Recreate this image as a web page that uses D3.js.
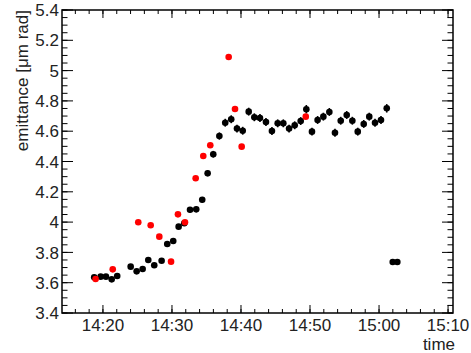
<!DOCTYPE html>
<html><head><meta charset="utf-8">
<script src="https://cdn.jsdelivr.net/npm/d3@7"></script>
<style>body{margin:0;background:#fff}svg{display:block}text{font-family:"Liberation Sans",Arial,sans-serif}</style>
</head><body><svg id="c" width="471" height="353"></svg>
<script>
// black series: time, emittance, error
const blackTimes = ["14:18:44","14:19:40","14:20:26","14:21:16","14:22:04","14:24:01","14:24:53","14:25:45","14:26:34","14:27:26","14:28:30","14:29:19","14:30:11","14:30:58","14:31:47","14:32:37","14:33:31","14:34:23","14:35:10","14:35:59","14:36:52","14:37:43","14:38:35","14:39:25","14:40:15","14:41:07","14:41:56","14:42:45","14:43:37","14:44:29","14:45:19","14:46:08","14:46:58","14:47:47","14:48:39","14:49:28","14:50:17","14:51:06","14:51:56","14:52:48","14:53:37","14:54:27","14:55:19","14:56:08","14:56:55","14:57:47","14:58:35","14:59:25","15:00:17","15:01:07","15:01:59","15:02:39"];
const blackValues = [3.636,3.640,3.640,3.622,3.644,3.706,3.675,3.690,3.750,3.715,3.745,3.855,3.875,3.970,3.992,4.082,4.084,4.148,4.322,4.448,4.568,4.656,4.679,4.617,4.603,4.729,4.692,4.687,4.661,4.601,4.652,4.652,4.617,4.639,4.667,4.745,4.597,4.674,4.696,4.727,4.590,4.669,4.707,4.669,4.597,4.648,4.696,4.656,4.674,4.751,3.737,3.737];
const blackErrors = [0.012,0.012,0.012,0.012,0.012,0.012,0.012,0.012,0.012,0.012,0.012,0.014,0.014,0.016,0.016,0.018,0.018,0.018,0.02,0.022,0.024,0.026,0.026,0.026,0.026,0.026,0.026,0.026,0.026,0.026,0.026,0.026,0.026,0.026,0.026,0.028,0.026,0.026,0.026,0.026,0.026,0.026,0.026,0.026,0.026,0.026,0.026,0.026,0.026,0.028,0.014,0.014];
// red series
const redTimes = ["14:18:56","14:21:25","14:25:07","14:26:55","14:28:10","14:29:52","14:30:52","14:31:53","14:33:26","14:34:32","14:35:33","14:38:13","14:39:08","14:40:06","14:49:23"];
const redValues = [3.624,3.688,3.999,3.979,3.904,3.739,4.051,3.999,4.289,4.436,4.507,5.090,4.747,4.498,4.696];
// axes
const xTickLabels = ["14:20","14:30","14:40","14:50","15:00","15:10"];
const yTickLabels = ["3.4","3.6","3.8","4","4.2","4.4","4.6","4.8","5","5.2","5.4"];
const xRange = ["14:14:04","15:10:43"];
const yRange = [3.4, 5.4];

const parse = d3.timeParse("%Y-%m-%d %H:%M:%S");
const T = s => parse("2000-01-01 " + s);
const TM = s => parse("2000-01-01 " + s + ":00");

const L = 62, R = 453, TOP = 10, B = 313;
const svg = d3.select("#c");
const x = d3.scaleTime().domain(xRange.map(T)).range([L, R]);
const y = d3.scaleLinear().domain(yRange).range([B, TOP]);

const g = svg.append("g");
// minor/major ticks
const xMajor = xTickLabels.map(TM);
const xMinor = d3.timeMinute.every(2).range(x.domain()[0], x.domain()[1]);
const yMajor = yTickLabels.map(Number);
const yMinor = d3.range(0, 41).map(i => yRange[0] + i * 0.05);

function tickLines(data, fn, cls) {
  g.selectAll(null).data(data).enter().append("line").attr("stroke", "#000").attr("stroke-width", 1).each(function(d){ const a = fn(d); d3.select(this).attr("x1",a[0]).attr("y1",a[1]).attr("x2",a[2]).attr("y2",a[3]); });
}
tickLines(xMinor, d => [x(d), B, x(d), B - 4]);
tickLines(xMinor, d => [x(d), TOP, x(d), TOP + 4]);
tickLines(xMajor, d => [x(d), B, x(d), B - 8]);
tickLines(xMajor, d => [x(d), TOP, x(d), TOP + 8]);
tickLines(yMinor, d => [L, y(d), L + 5.5, y(d)]);
tickLines(yMinor, d => [R, y(d), R - 5.5, y(d)]);
tickLines(yMajor, d => [L, y(d), L + 11, y(d)]);
tickLines(yMajor, d => [R, y(d), R - 11, y(d)]);

g.append("rect").attr("x", L).attr("y", TOP).attr("width", R - L).attr("height", B - TOP)
  .attr("fill", "none").attr("stroke", "#000").attr("stroke-width", 1.5);

// labels
g.selectAll(null).data(xTickLabels).enter().append("text")
  .attr("x", d => x(TM(d))).attr("y", 331).attr("text-anchor", "middle")
  .attr("font-size", 17).attr("fill", "#222").text(d => d);
g.selectAll(null).data(yTickLabels).enter().append("text")
  .attr("x", 59).attr("y", d => y(+d)).attr("dy", "0.36em").attr("text-anchor", "end")
  .attr("font-size", 17).attr("fill", "#222").text(d => d);
g.append("text").attr("transform", "translate(28,10) rotate(-90)").attr("text-anchor", "end")
  .attr("font-size", 17).attr("fill", "#222").text("emittance [μm rad]");
g.append("text").attr("x", 455).attr("y", 350).attr("text-anchor", "end")
  .attr("font-size", 17).attr("fill", "#222").text("time");

// data
const black = blackTimes.map((t, i) => ({t: T(t), v: blackValues[i], e: blackErrors[i]}));
const red = redTimes.map((t, i) => ({t: T(t), v: redValues[i]}));
const pg = svg.append("g");
pg.selectAll("line.err").data(black).enter().append("line").attr("class", "err")
  .attr("x1", d => x(d.t)).attr("x2", d => x(d.t))
  .attr("y1", d => y(d.v - d.e)).attr("y2", d => y(d.v + d.e))
  .attr("stroke", "#000").attr("stroke-width", 1.6);
pg.selectAll("circle.b").data(black).enter().append("circle").attr("class", "b")
  .attr("cx", d => x(d.t)).attr("cy", d => y(d.v)).attr("r", 3.3).attr("fill", "#000");
pg.selectAll("circle.r").data(red).enter().append("circle").attr("class", "r")
  .attr("cx", d => x(d.t)).attr("cy", d => y(d.v)).attr("r", 3.3).attr("fill", "#ff0000");
</script></body></html>
